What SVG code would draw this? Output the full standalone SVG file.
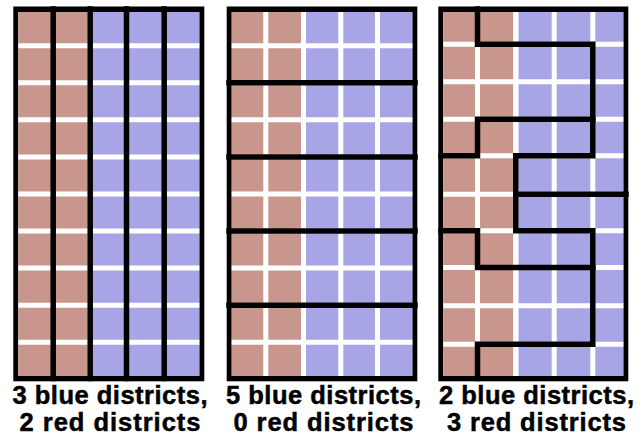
<svg xmlns="http://www.w3.org/2000/svg" width="643" height="437" viewBox="0 0 643 437">
  <style>
    .frame { fill: #000; }
    .inner { fill: #fff; }
    .red { fill: #c8968c; }
    .blue { fill: #a8a5e6; }
    .gap { stroke: #fff; stroke-width: 5; fill: none; }
    .district { stroke: #000; stroke-width: 5.5; fill: none; stroke-linecap: square; stroke-linejoin: miter; }
    .label { font-family: "Liberation Sans", Arial, sans-serif; font-weight: bold; font-size: 25.5px; fill: #000; stroke: #000; stroke-width: 0.5; text-anchor: middle; }
  </style>
  <rect width="643" height="437" fill="#fff"/>

  <!-- Panel 1: 3 blue, 2 red -->
  <g id="panel1">
    <rect class="frame" x="13.3" y="6.5" width="191" height="374.8"/>
    <rect class="inner" x="18.3" y="12" width="181" height="364"/>
    <rect class="red" x="18.3" y="12" width="69.4" height="364"/>
    <rect class="blue" x="92.7" y="12" width="106.6" height="364"/>
    <path class="gap" d="M18.3 45.7H199.3M18.3 82.8H199.3M18.3 119.8H199.3M18.3 156.9H199.3M18.3 194H199.3M18.3 231H199.3M18.3 268.1H199.3M18.3 305.2H199.3M18.3 342.3H199.3"/>
  </g>

  <!-- Panel 2: 5 blue, 0 red -->
  <g id="panel2">
    <rect class="frame" x="226.7" y="6.5" width="190.6" height="374.8"/>
    <rect class="inner" x="231.7" y="12" width="180.6" height="364"/>
    <rect class="red" x="231.7" y="12" width="69.3" height="364"/>
    <rect class="blue" x="306" y="12" width="106.3" height="364"/>
    <path class="gap" d="M265.8 12V376M303.5 12V376M340.8 12V376M377.5 12V376M231.7 45.7H412.3M231.7 82.8H412.3M231.7 119.8H412.3M231.7 156.9H412.3M231.7 194H412.3M231.7 231H412.3M231.7 268.1H412.3M231.7 305.2H412.3M231.7 342.3H412.3"/>
  </g>

  <!-- Panel 3: 2 blue, 3 red -->
  <g id="panel3">
    <rect class="frame" x="438.3" y="6.5" width="190" height="374.8"/>
    <rect class="inner" x="443.3" y="12" width="180" height="364"/>
    <rect class="red" x="443.3" y="12" width="70" height="364"/>
    <rect class="blue" x="518.3" y="12" width="105" height="364"/>
    <path class="gap" d="M477.5 12V376M515.8 12V376M554.2 12V376M592.8 12V376M443.3 44.2H623.3M443.3 81.8H623.3M443.3 119.2H623.3M443.3 155.8H623.3M443.3 194.2H623.3M443.3 230.8H623.3M443.3 267.5H623.3M443.3 305.8H623.3M443.3 344.2H623.3"/>
  </g>

  <!-- District boundaries -->
  <g id="connectors">
    <path class="district" d="M53.2 9V378.5M90.2 9V378.5M126.5 9V378.5M164.2 9V378.5"/>
    <path class="district" d="M229 82.8H415M229 156.9H415M229 231H415M229 305.2H415"/>
    <path class="district" d="M477.5 9V44.2H592.8V155.8H515.8V230.8H592.8V344.2H477.5V378.5"/>
    <path class="district" d="M592.8 119.2H477.5V155.8H441"/>
    <path class="district" d="M515.8 194.2H626"/>
    <path class="district" d="M441 230.8H477.5V267.5H592.8"/>
  </g>

  <g id="labels">
    <text class="label" x="110" y="404" textLength="195" lengthAdjust="spacing">3 blue districts,</text>
    <text class="label" x="110" y="431" textLength="181" lengthAdjust="spacing">2 red districts</text>
    <text class="label" x="323.5" y="404" textLength="195" lengthAdjust="spacing">5 blue districts,</text>
    <text class="label" x="323.5" y="431" textLength="180" lengthAdjust="spacing">0 red districts</text>
    <text class="label" x="536.5" y="404" textLength="195" lengthAdjust="spacing">2 blue districts,</text>
    <text class="label" x="536.5" y="431" textLength="179" lengthAdjust="spacing">3 red districts</text>
  </g>
</svg>
